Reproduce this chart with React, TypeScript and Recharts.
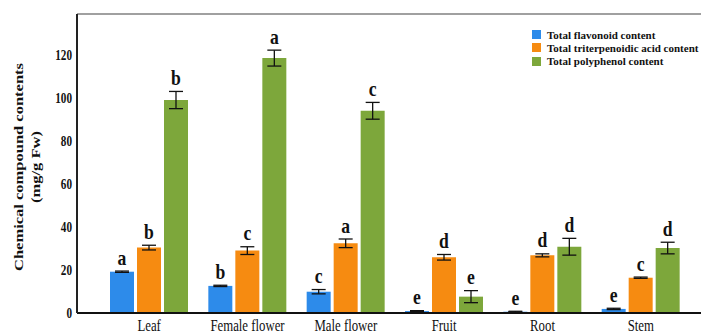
import React from 'react';
import {
  BarChart,
  Bar,
  XAxis,
  YAxis,
  ErrorBar,
  LabelList,
  Legend,
  ReferenceLine,
} from 'recharts';

const categories = ['Leaf', 'Female flower', 'Male flower', 'Fruit', 'Root', 'Stem'];

const flavonoid = [19.2, 12.6, 9.9, 0.9, 0.6, 1.9];
const flavonoidErr = [0.3, 0.3, 1.0, 0.2, 0.2, 0.3];
const flavonoidLetters = ['a', 'b', 'c', 'e', 'e', 'e'];

const triterpenoid = [30.4, 29.0, 32.4, 25.9, 26.8, 16.4];
const triterpenoidErr = [1.1, 1.8, 2.0, 1.3, 0.7, 0.3];
const triterpenoidLetters = ['b', 'c', 'a', 'd', 'd', 'c'];

const polyphenol = [99.0, 118.5, 94.0, 7.6, 30.8, 30.2];
const polyphenolErr = [4.0, 3.7, 3.9, 2.8, 3.9, 2.7];
const polyphenolLetters = ['b', 'a', 'c', 'e', 'd', 'd'];

const yTicks = [0, 20, 40, 60, 80, 100, 120];

const data = categories.map((name, i) => ({
  name,
  flavonoid: flavonoid[i],
  flavonoidErr: flavonoidErr[i],
  triterpenoid: triterpenoid[i],
  triterpenoidErr: triterpenoidErr[i],
  polyphenol: polyphenol[i],
  polyphenolErr: polyphenolErr[i],
}));

const series = [
  { key: 'flavonoid', name: 'Total flavonoid content', color: '#2D8BEA', errs: flavonoidErr, letters: flavonoidLetters },
  { key: 'triterpenoid', name: 'Total triterpenoidic acid content', color: '#F68B11', errs: triterpenoidErr, letters: triterpenoidLetters },
  { key: 'polyphenol', name: 'Total polyphenol content', color: '#7DA73B', errs: polyphenolErr, letters: polyphenolLetters },
];

const FONT = '"Liberation Serif", "Times New Roman", serif';

const XTick = ({ x, y, payload }: any) => (
  <g transform={`translate(${x},${y + 18})`}>
    <text transform="scale(0.8,1)" textAnchor="middle" fontSize={16} fontFamily={FONT} fill="#111">
      {payload.value}
    </text>
  </g>
);

const YTick = ({ x, y, payload }: any) => (
  <g transform={`translate(${x - 5},${y})`}>
    <text transform="scale(0.8,1)" textAnchor="end" dy="0.35em" fontSize={14} fontWeight="bold" fontFamily={FONT} fill="#111">
      {payload.value}
    </text>
  </g>
);

const YLabel = () => (
  <g>
    <text
      transform="translate(18,167) scale(0.8,1) rotate(-90)"
      textAnchor="middle"
      dy="0.35em"
      fontSize={16.5}
      fontWeight="bold"
      fontFamily={FONT}
      fill="#111"
    >
      Chemical compound contents
    </text>
    <text
      transform="translate(35,167) scale(0.8,1) rotate(-90)"
      textAnchor="middle"
      dy="0.35em"
      fontSize={16.5}
      fontWeight="bold"
      fontFamily={FONT}
      fill="#111"
    >
      (mg/g Fw)
    </text>
  </g>
);

// letter above each error bar
const makeLetter = (errs: number[], letters: string[]) => (props: any) => {
  const vb = props.viewBox ?? props;
  const { x, y, width, height } = vb;
  const index = props.index;
  const value = Number(props.value);
  if (index == null || !value) return null;
  const pxPerUnit = height / value;
  const top = y - errs[index] * pxPerUnit;
  return (
    <g transform={`translate(${x + width / 2},${top - 6.5})`}>
      <text transform="scale(0.8,1)" textAnchor="middle" fontSize={22} fontWeight="bold" fontFamily={FONT} fill="#111">
        {letters[index]}
      </text>
    </g>
  );
};

const LegendBox = () => (
  <div style={{ fontFamily: FONT, fontWeight: 'bold', fontSize: 11, color: '#111' }}>
    {series.map((s) => (
      <div key={s.key} style={{ display: 'flex', alignItems: 'center', height: 13.3, whiteSpace: 'nowrap' }}>
        <span style={{ width: 9, height: 9, background: s.color, marginRight: 6, display: 'inline-block' }} />
        {s.name}
      </div>
    ))}
  </div>
);

export default function App() {
  return (
    <div style={{ position: 'absolute', left: 0, top: 0, background: '#fff' }}>
      <BarChart
        width={701}
        height={333}
        data={data}
        margin={{ top: 14, right: 0, bottom: 0, left: 0 }}
        barSize={24}
        barGap={3}
      >
        <XAxis
          dataKey="name"
          height={20}
          tick={<XTick />}
          tickLine={false}
          tickSize={0}
          tickMargin={0}
          axisLine={{ stroke: '#111', strokeWidth: 2 }}
          padding={{ left: 23, right: 11 }}
          interval={0}
        />
        <YAxis
          width={77}
          domain={[0, 139]}
          ticks={yTicks}
          tick={<YTick />}
          tickLine={false}
          tickSize={0}
          tickMargin={0}
          axisLine={{ stroke: '#222', strokeWidth: 2 }}
          label={<YLabel />}
        />
        <ReferenceLine y={139} stroke="#808080" strokeWidth={1.5} />
        <Legend
          layout="vertical"
          align="center"
          verticalAlign="middle"
          content={<LegendBox />}
          wrapperStyle={{ left: 532, top: 28, width: 'auto' }}
        />
        {series.map((s) => (
          <Bar key={s.key} dataKey={s.key} name={s.name} fill={s.color} isAnimationActive={false}>
            <ErrorBar dataKey={`${s.key}Err`} width={7} stroke="#111" strokeWidth={1.3} />
            <LabelList dataKey={s.key} content={makeLetter(s.errs, s.letters)} />
          </Bar>
        ))}
      </BarChart>
    </div>
  );
}
